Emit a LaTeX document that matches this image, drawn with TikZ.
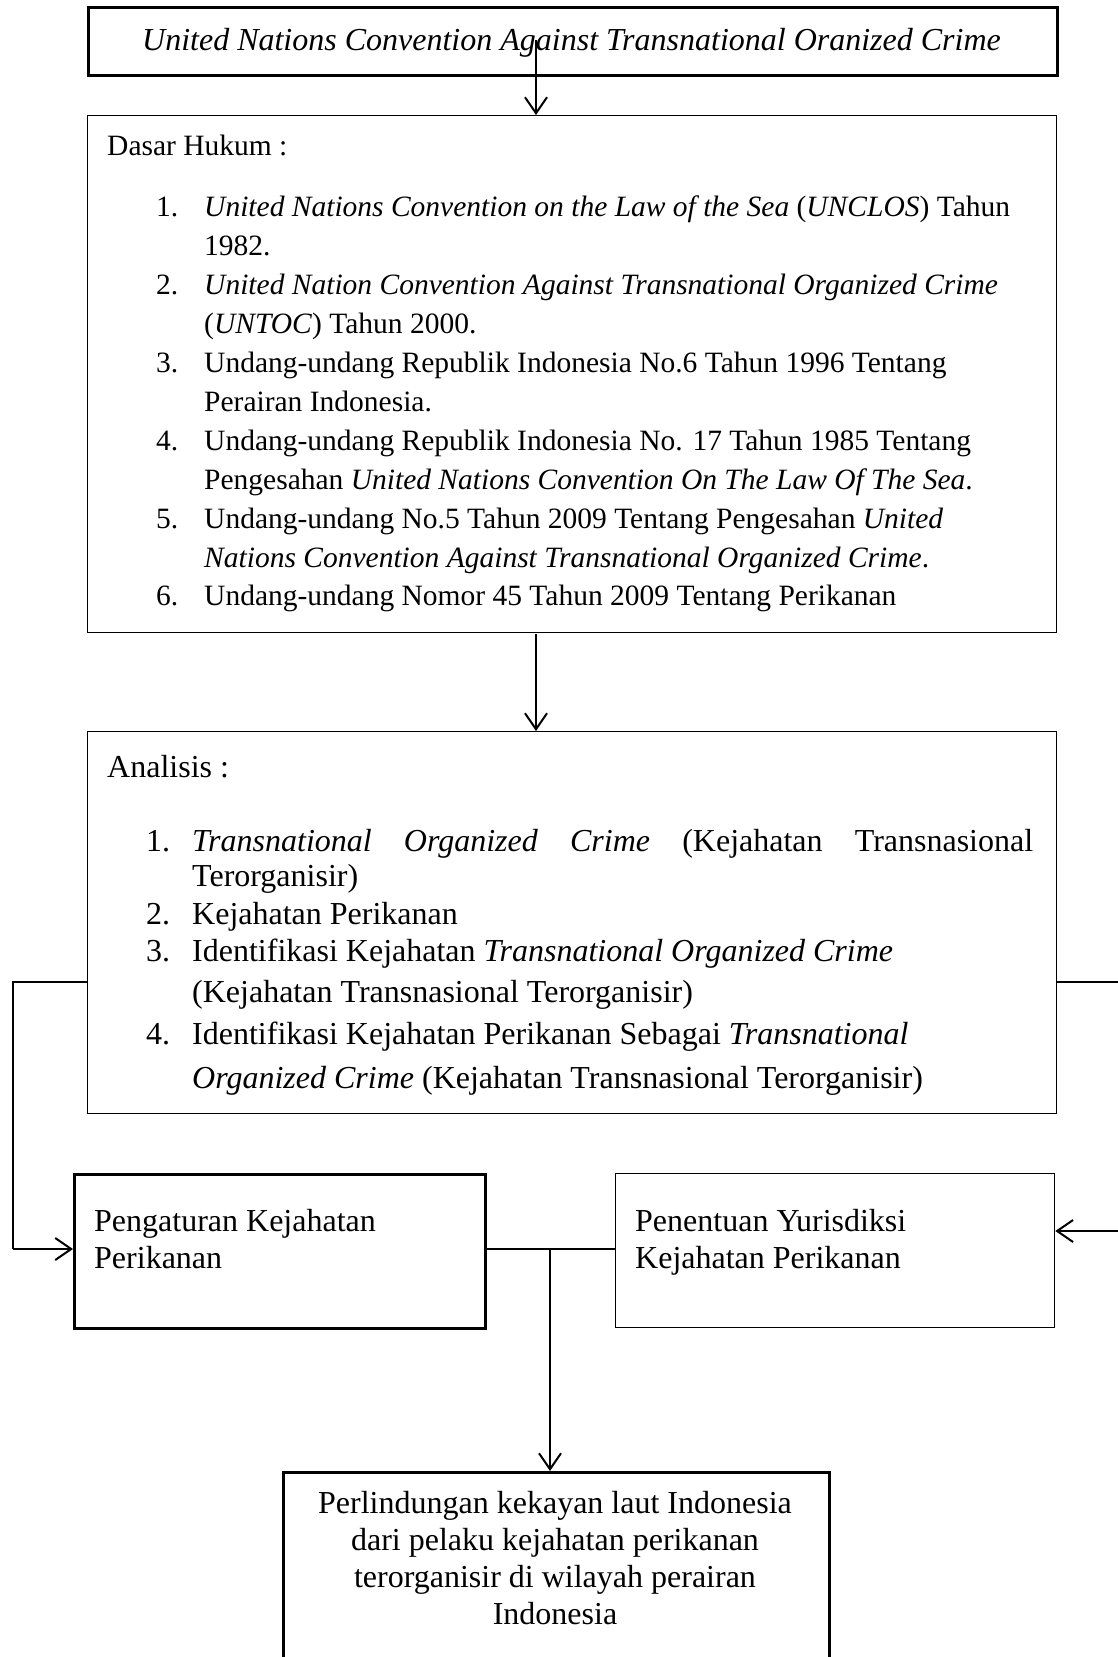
\documentclass[tikz,border=0pt]{standalone}
\usepackage{fontspec}
\setmainfont{Liberation Serif}
\usetikzlibrary{arrows.meta}
\tikzset{
  thinbox/.style={draw, line width=1.3pt, anchor=north west, inner sep=0pt},
  thickbox/.style={draw, line width=2.6pt, anchor=north west, inner sep=0pt},
  conn/.style={line width=2pt},
  arr/.style={line width=2pt, -{Straight Barb[length=16pt,width=22pt,line width=2pt]}},
  dtxt/.style={anchor=base west, inner sep=0pt, yshift=-3pt, font=\fontsize{29.5}{38}\selectfont},
  atxt/.style={anchor=base west, inner sep=0pt, yshift=-3pt, font=\fontsize{32}{38}\selectfont},
  ctxt/.style={anchor=base, inner sep=0pt, yshift=-3pt, font=\fontsize{32}{38}\selectfont}
}
\begin{document}
\begin{tikzpicture}[x=1pt,y=-1pt]
\useasboundingbox (0,0) rectangle (1118,1657);
\clip (0,0) rectangle (1118,1657);
\fill[white] (0,0) rectangle (1118,1657);

% boxes
\node[thickbox, minimum width=969pt, minimum height=68pt] (top) at (87,6) {};
\node[thinbox, minimum width=969pt, minimum height=517pt] (dasar) at (87,115) {};
\node[thinbox, minimum width=969pt, minimum height=382pt] (anal) at (87,731) {};
\node[thickbox, minimum width=411pt, minimum height=154pt] (peng) at (73,1173) {};
\node[thinbox, minimum width=439pt, minimum height=154pt] (pen) at (615,1173) {};
\node[thickbox, minimum width=546pt, minimum height=240pt] (perl) at (282,1471) {};

% top text
\node[ctxt] (toptxt) at (571.5,47) {\itshape United Nations Convention Against Transnational Oranized Crime};

% dasar hukum text
\node[dtxt] (dh) at (107,152) {Dasar Hukum :};
\node[dtxt] (n1) at (156,213) {1.};
\node[dtxt] (t1) at (204,213) {\textit{United Nations Convention on the Law of the Sea} (\textit{UNCLOS}) Tahun};
\node[dtxt] (t1b) at (204,252) {1982.};
\node[dtxt] (n2) at (156,291) {2.};
\node[dtxt] (t2) at (204,291) {\textit{United Nation Convention Against Transnational Organized Crime}};
\node[dtxt] (t2b) at (204,330) {(\textit{UNTOC}) Tahun 2000.};
\node[dtxt] (n3) at (156,369) {3.};
\node[dtxt] (t3) at (204,369) {Undang-undang Republik Indonesia No.6 Tahun 1996 Tentang};
\node[dtxt] (t3b) at (204,408) {Perairan Indonesia.};
\node[dtxt] (n4) at (156,447) {4.};
\node[dtxt] (t4) at (204,447) {Undang-undang Republik Indonesia No. 17 Tahun 1985 Tentang};
\node[dtxt] (t4b) at (204,486) {Pengesahan \textit{United Nations Convention On The Law Of The Sea}.};
\node[dtxt] (n5) at (156,525) {5.};
\node[dtxt] (t5) at (204,525) {Undang-undang No.5 Tahun 2009 Tentang Pengesahan \textit{United}};
\node[dtxt] (t5b) at (204,564) {\textit{Nations Convention Against Transnational Organized Crime}.};
\node[dtxt] (n6) at (156,602) {6.};
\node[dtxt] (t6) at (204,602) {Undang-undang Nomor 45 Tahun 2009 Tentang Perikanan};

% analisis text
\node[atxt] (an) at (107,774) {Analisis :};
\node[atxt] (a1n) at (146,848) {1.};
\node[atxt] (a1) at (192,848) {\hbox to 841pt{\textit{Transnational}\hfill\textit{Organized}\hfill\textit{Crime}\hfill(Kejahatan\hfill Transnasional}};
\node[atxt] (a1b) at (192,883) {Terorganisir)};
\node[atxt] (a2n) at (146,921) {2.};
\node[atxt] (a2) at (192,921) {Kejahatan Perikanan};
\node[atxt] (a3n) at (146,958) {3.};
\node[atxt] (a3) at (192,958) {Identifikasi Kejahatan \textit{Transnational Organized Crime}};
\node[atxt] (a3b) at (192,999) {(Kejahatan Transnasional Terorganisir)};
\node[atxt] (a4n) at (146,1041) {4.};
\node[atxt] (a4) at (192,1041) {Identifikasi Kejahatan Perikanan Sebagai \textit{Transnational}};
\node[atxt] (a4b) at (192,1085) {\textit{Organized Crime} (Kejahatan Transnasional Terorganisir)};

% lower boxes text
\node[atxt] (pg1) at (94,1228) {Pengaturan Kejahatan};
\node[atxt] (pg2) at (94,1265) {Perikanan};
\node[atxt] (pn1) at (635,1228) {Penentuan Yurisdiksi};
\node[atxt] (pn2) at (635,1265) {Kejahatan Perikanan};
\node[ctxt] (pl1) at (555,1510) {Perlindungan kekayan laut Indonesia};
\node[ctxt] (pl2) at (555,1547) {dari pelaku kejahatan perikanan};
\node[ctxt] (pl3) at (555,1584) {terorganisir di wilayah perairan};
\node[ctxt] (pl4) at (555,1621) {Indonesia};

% connectors
\coordinate (s1) at (536,40);
\draw[arr] (s1) -- (s1 |- dasar.north);
\coordinate (s2) at (536,634);
\draw[arr] (s2) -- (s2 |- anal.north);
\coordinate (lc) at (13,982);
\coordinate (rc) at (1125,982);
\coordinate (rin) at (1125,1231);
\draw[conn] (anal.west |- lc) -- (lc) -- (13,1249) coordinate (lc2);
\draw[arr] (lc2) -- (lc2 -| peng.west);
\draw[conn] (anal.east |- rc) -- (rc);
\draw[arr] (rin) -- (rin -| pen.east);
\coordinate (mid) at (550,1249);
\draw[conn] (mid -| peng.east) -- (mid -| pen.west);
\draw[arr] (mid) -- (mid |- perl.north);
\end{tikzpicture}
\end{document}
